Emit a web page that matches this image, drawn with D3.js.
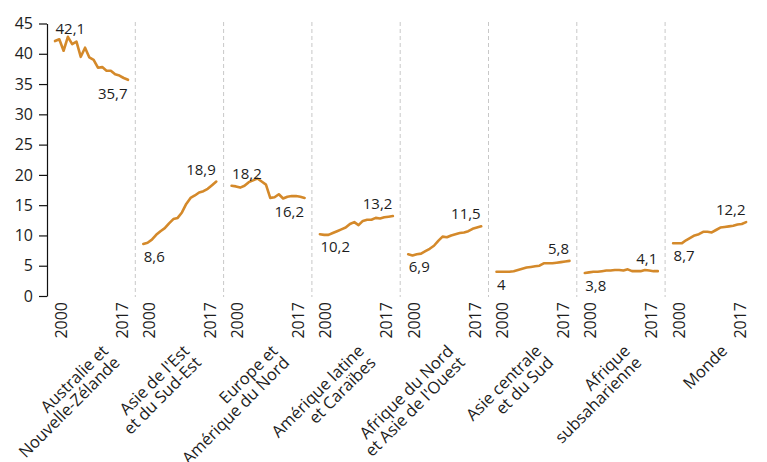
<!DOCTYPE html>
<html>
<head>
<meta charset="utf-8">
<script src="https://cdn.jsdelivr.net/npm/d3@7"></script>
<style>
  html, body { margin: 0; padding: 0; background: #fff; }
  svg { display: block; font-family: "Open Sans", "Noto Sans", sans-serif; }
</style>
</head>
<body>
<script>
// ---- Data ----
const years = [2000, 2001, 2002, 2003, 2004, 2005, 2006, 2007, 2008, 2009, 2010, 2011, 2012, 2013, 2014, 2015, 2016, 2017];
const regionLabels = [
  ["Australie et", "Nouvelle-Zélande"],
  ["Asie de l'Est", "et du Sud-Est"],
  ["Europe et", "Amérique du Nord"],
  ["Amérique latine", "et Caraïbes"],
  ["Afrique du Nord", "et Asie de l'Ouest"],
  ["Asie centrale", "et du Sud"],
  ["Afrique", "subsaharienne"],
  ["Monde"]
];
const australie = [42.1, 42.4, 40.5, 42.8, 41.6, 42.0, 39.5, 41.0, 39.4, 39.0, 37.7, 37.8, 37.2, 37.2, 36.6, 36.4, 36.0, 35.7];
const asieEst = [8.6, 8.8, 9.3, 10.1, 10.7, 11.2, 12.0, 12.7, 12.9, 13.8, 15.2, 16.2, 16.6, 17.1, 17.3, 17.7, 18.3, 18.9];
const europe = [18.2, 18.1, 17.9, 18.2, 18.8, 19.1, 19.4, 18.9, 18.4, 16.2, 16.3, 16.8, 16.1, 16.4, 16.5, 16.5, 16.4, 16.2];
const ameriqueLatine = [10.2, 10.1, 10.1, 10.4, 10.7, 11.0, 11.3, 11.9, 12.2, 11.7, 12.4, 12.6, 12.6, 12.9, 12.8, 13.0, 13.1, 13.2];
const afriqueNord = [6.9, 6.7, 6.9, 7.0, 7.4, 7.8, 8.3, 9.1, 9.8, 9.7, 10.0, 10.2, 10.4, 10.5, 10.7, 11.1, 11.3, 11.5];
const asieCentrale = [4.0, 4.0, 4.0, 4.0, 4.1, 4.3, 4.5, 4.7, 4.8, 4.9, 5.0, 5.4, 5.4, 5.4, 5.5, 5.6, 5.7, 5.8];
const afriqueSub = [3.8, 3.9, 4.0, 4.0, 4.1, 4.2, 4.2, 4.3, 4.3, 4.2, 4.4, 4.1, 4.1, 4.1, 4.3, 4.2, 4.1, 4.1];
const monde = [8.7, 8.7, 8.7, 9.2, 9.6, 10.0, 10.2, 10.6, 10.6, 10.5, 10.9, 11.3, 11.4, 11.5, 11.6, 11.8, 11.9, 12.2];
const seriesValues = [australie, asieEst, europe, ameriqueLatine, afriqueNord, asieCentrale, afriqueSub, monde];
const yTicks = [0, 5, 10, 15, 20, 25, 30, 35, 40, 45];
const yearTicks = [2000, 2017];

// ---- Layout ----
const W = 767, H = 462;
const lineColor = "#d4892a";
const textColor = "#1d1d1d";
const fmt = v => String(v).replace(".", ",");
// horizontal nudge of each rotated region label (layout only)
const labelNudge = [18, 11, 11, 9, 10, 10, 10, 19];

const svg = d3.select("body").append("svg").attr("width", W).attr("height", H);

const y = d3.scaleLinear().domain([0, 45]).range([296, 23.5]);
const panel = d3.scaleBand().domain(d3.range(regionLabels.length)).range([47, 47 + 8 * 88.3]);

// y axis
const yAxis = svg.append("g").attr("transform", "translate(47,0)")
  .call(d3.axisLeft(y).tickValues(yTicks).tickSize(8).tickSizeOuter(0).tickPadding(6));
yAxis.select(".domain").attr("stroke", "#111").attr("stroke-width", 1.2);
yAxis.selectAll(".tick line").attr("stroke", "#111").attr("stroke-width", 1.2);
yAxis.selectAll(".tick text").attr("font-size", 16).attr("fill", textColor)
  .attr("font-family", "Open Sans, sans-serif");

// separators
svg.append("g").selectAll("line").data(d3.range(1, regionLabels.length)).join("line")
  .attr("x1", d => panel(d)).attr("x2", d => panel(d))
  .attr("y1", 22).attr("y2", 297)
  .attr("stroke", "#c8c8c8").attr("stroke-width", 1).attr("stroke-dasharray", "4,3");

const line = d3.line().curve(d3.curveLinear);

seriesValues.forEach((vals, i) => {
  const left = panel(i);
  const x = d3.scaleLinear().domain([2000, 2017]).range([left + 8, left + 81]);
  const g = svg.append("g");
  g.append("path")
    .attr("d", line.x((d, k) => x(years[k])).y(d => y(d))(vals))
    .attr("fill", "none").attr("stroke", lineColor).attr("stroke-width", 2.6)
    .attr("stroke-linejoin", "round").attr("stroke-linecap", "round");

  const first = vals[0], last = vals[vals.length - 1];
  const rising = last > first;
  // start label
  g.append("text").text(fmt(first))
    .attr("x", x(2000) + 0.5)
    .attr("y", rising ? y(first) + 18 : y(first) - 7)
    .attr("text-anchor", "start").attr("font-size", 15).attr("fill", textColor);
  // end label
  g.append("text").text(fmt(last))
    .attr("x", x(2017) - 0.5)
    .attr("y", rising ? y(last) - 7 : y(last) + 19)
    .attr("text-anchor", "end").attr("font-size", 15).attr("fill", textColor);

  // year labels
  yearTicks.forEach(yr => {
    const cx = yr === 2000 ? x(yr) + 5.5 : x(yr) - 6.5;
    g.append("text").text(yr)
      .attr("transform", `translate(${cx + 6},302) rotate(-90)`)
      .attr("text-anchor", "end").attr("font-size", 16).attr("fill", textColor);
  });

  // region label (first line anchored, following lines below)
  const lines = regionLabels[i];
  const cx = left + 88.3 / 2;
  const t = g.append("text")
    .attr("transform", `translate(${cx + labelNudge[i]},352) rotate(-45)`)
    .attr("text-anchor", "end").attr("font-size", 16.5).attr("fill", textColor);
  lines.forEach((ln, k) => {
    t.append("tspan").attr("x", 0).attr("y", k * 16.5).text(ln);
  });
});
</script>
</body>
</html>
